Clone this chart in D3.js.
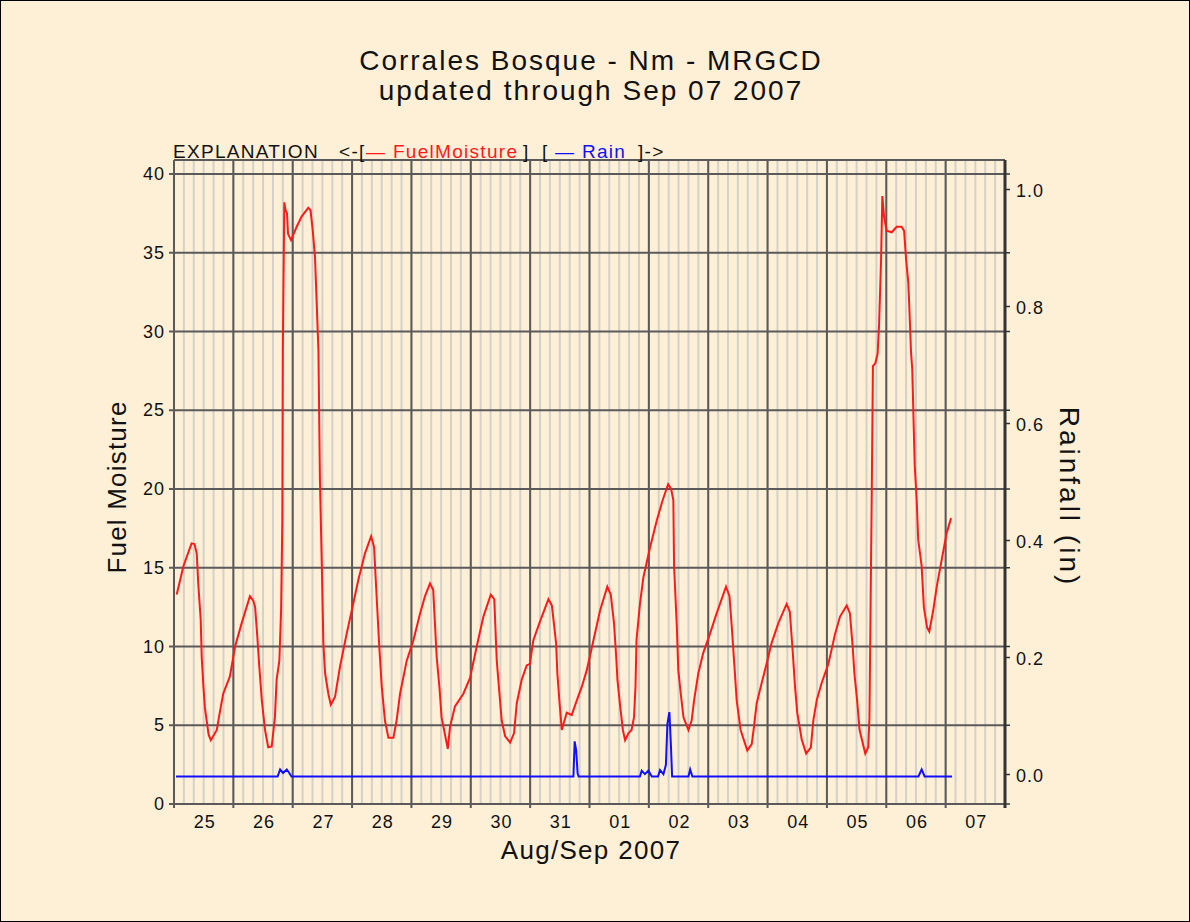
<!DOCTYPE html>
<html><head>
<meta charset="utf-8">
<script src="https://d3js.org/d3.v7.min.js"></script>
<style>
  body { margin: 0; background: #fff; }
  svg text { font-family: "Liberation Sans", Arial, Helvetica, sans-serif; fill: #111; }
  .minor { stroke: #d4d1ca; stroke-width: 2px; }
  .major { stroke: #5a5a5a; stroke-width: 2px; }
  .hgrid { stroke: #5a5a5a; stroke-width: 2px; }
  .tick { stroke: #333; stroke-width: 1.5px; }
  .lbl { font-size: 18px; letter-spacing: 1px; }
</style>
</head>
<body>
<svg id="chart" width="1190" height="922"></svg>
<script>

// Fuel moisture readings, [hours since Aug 25 00:00, value]
const fuelMoisture = [
  [1.1,13.3],[3.8,15.1],[7.1,16.55],[8.3,16.5],[9.2,15.9],[9.8,14.0],[10.8,11.7],[11.2,9.35],
  [11.9,7.45],[12.5,6.1],[14.0,4.4],[14.9,4.05],[17.3,4.7],[18.5,5.8],[19.9,7.0],[22.6,8.1],
  [24.7,10.0],[27.4,11.5],[30.7,13.2],[32.1,12.9],[32.8,12.5],[33.7,10.6],[34.5,8.7],[35.5,6.6],
  [36.8,4.7],[38.1,3.6],[39.5,3.65],[40.8,5.5],[41.5,7.9],[42.6,9.1],[43.3,12.3],[43.8,18.0],
  [44.0,28.8],[44.6,38.2],[45.1,37.7],[45.7,37.5],[46.1,36.2],[47.3,35.8],[49.6,36.65],[51.6,37.3],
  [54.3,37.86],[55.2,37.7],[56.1,36.4],[57.0,34.75],[57.7,31.8],[58.4,28.8],[59.0,20.6],[59.8,14.9],
  [60.4,10.2],[61.1,8.3],[62.4,7.0],[63.4,6.3],[65.1,6.8],[67.1,8.7],[69.8,10.8],[71.9,12.3],
  [74.5,14.2],[77.2,15.9],[79.7,17.0],[80.9,16.3],[82.0,12.95],[83.0,10.0],[84.0,7.45],[85.3,5.3],
  [86.7,4.2],[88.7,4.2],[90.0,5.3],[91.4,7.0],[94.1,9.1],[96.8,10.4],[99.5,12.1],[101.5,13.2],
  [103.5,14.0],[104.8,13.6],[105.5,11.5],[106.2,9.35],[107.3,7.45],[108.2,5.5],[110.7,3.5],[111.6,4.9],
  [113.6,6.2],[117.0,7.0],[119.7,8.0],[122.4,10.0],[125.1,11.9],[128.1,13.3],[129.5,13.0],[130.5,9.1],
  [131.6,7.0],[132.5,5.3],[133.9,4.3],[135.9,3.9],[137.5,4.5],[138.6,6.4],[140.6,7.9],[142.6,8.8],
  [143.9,8.9],[145.3,10.4],[148.0,11.6],[151.4,13.0],[152.8,12.6],[154.5,10.2],[155.0,8.3],[155.8,6.6],
  [156.8,4.7],[157.5,5.1],[158.8,5.8],[160.8,5.65],[162.9,6.6],[164.9,7.45],[166.9,8.5],[169.6,10.4],
  [172.3,12.3],[175.2,13.8],[176.6,13.3],[177.9,11.5],[178.7,9.6],[179.3,7.9],[180.4,6.2],[181.5,4.7],
  [182.4,4.05],[183.8,4.5],[185.0,4.7],[186.0,5.5],[186.6,7.45],[187.0,10.4],[188.4,12.7],[189.8,14.4],
  [192.5,16.3],[195.2,18.0],[197.6,19.3],[199.8,20.3],[201.0,20.0],[201.9,19.3],[202.2,15.1],[203.3,11.3],
  [203.9,8.5],[204.9,7.0],[206.0,5.5],[208.0,4.7],[209.3,5.3],[210.3,6.6],[212.0,8.3],[214.0,9.6],
  [216.7,10.8],[219.4,12.1],[223.2,13.8],[224.6,13.2],[225.5,11.3],[226.8,8.3],[227.5,6.6],[229.1,4.7],
  [231.8,3.4],[233.6,3.8],[234.5,4.9],[235.6,6.4],[237.6,7.66],[239.6,8.9],[241.6,10.2],[244.4,11.5],
  [247.7,12.7],[249.0,12.2],[250.2,9.6],[251.1,7.45],[252.0,5.8],[253.8,4.1],[255.6,3.2],[257.5,3.6],
  [258.5,5.3],[259.9,6.6],[261.9,7.7],[264.6,8.9],[267.3,10.8],[269.3,11.9],[272.0,12.6],[273.3,12.1],
  [274.4,10.0],[275.1,8.3],[276.2,6.6],[277.2,4.7],[279.5,3.2],[280.7,3.6],[281.2,5.5],[281.7,13.4],
  [282.1,19.3],[282.6,27.8],[283.6,28.0],[284.5,28.6],[285.1,30.5],[285.9,34.6],[286.4,38.6],[287.1,37.3],
  [288.1,36.4],[290.2,36.3],[292.2,36.65],[294.2,36.65],[295.2,36.4],[296.0,34.6],[296.9,33.1],[297.3,31.6],
  [298.0,28.7],[298.5,27.6],[299.5,21.5],[300.3,19.3],[300.9,16.8],[302.3,15.1],[303.2,12.5],[304.5,11.2],
  [305.4,10.95],[307.0,12.3],[308.4,13.8],[310.4,15.5],[312.4,17.2],[314.2,18.15]
];

// Rainfall (in), [hours since Aug 25 00:00, value]
const rain = [
  [0.8,0],[41.9,0],[42.9,0.012],[44.1,0.006],[45.6,0.012],[46.6,0.006],[47.5,0],
  [161.5,0],[162.0,0.06],[162.6,0.045],[163.2,0.005],[163.6,0],
  [188.4,0],[189.1,0.01],[190.4,0.004],[191.8,0.01],[193.2,0],
  [195.7,0],[196.5,0.011],[197.9,0.004],[198.9,0.02],[199.5,0.09],[200.3,0.11],[200.9,0.055],[201.4,0],
  [208.0,0],[208.7,0.012],[209.6,0],
  [301.0,0],[302.3,0.012],[303.5,0],[314.6,0]
];

const startDate = new Date(Date.UTC(2007, 7, 25));
const endDate = new Date(Date.UTC(2007, 8, 8));
const fuelTicks = [0, 5, 10, 15, 20, 25, 30, 35, 40];
const rainTicks = [0, 0.2, 0.4, 0.6, 0.8, 1.0];
const titleLines = ["Corrales Bosque - Nm - MRGCD", "updated through Sep 07 2007"];
// legend pieces: text, colour
const legendParts = [
  ["EXPLANATION", "#111"], ["<-[", "#111"], ["— FuelMoisture", "#ff1a1a"],
  ["]", "#111"], ["[", "#111"], ["— Rain", "#1010ff"], ["]->", "#111"]
];
const legendX = [173, 339, 366, 523, 542, 555, 638];

const svg = d3.select("#chart");
const W = +svg.attr("width"), H = +svg.attr("height");
const plotL = 174, plotR = 1005, plotT = 160, plotB = 804;

const hrs = h => d3.utcMinute.offset(startDate, Math.round(h * 60));

const x = d3.scaleUtc().domain([startDate, endDate]).range([plotL, plotR]);
const yFuel = d3.scaleLinear().domain([0, 40]).range([plotB, 174]);
const yRain = d3.scaleLinear().domain([0, 1]).range([776.5, 191.5]);

// background + outer frame
svg.append("rect").attr("x", 0.5).attr("y", 0.5).attr("width", W - 1).attr("height", H - 1)
  .attr("fill", "#feefd7").attr("stroke", "#000");

// minor verticals every 4 hours
svg.append("g").selectAll("line")
  .data(d3.utcHour.every(4).range(startDate, endDate))
  .join("line").attr("class", "minor")
  .attr("x1", d => x(d)).attr("x2", d => x(d))
  .attr("y1", plotT).attr("y2", plotB);

// day boundaries
const days = d3.utcDay.range(startDate, d3.utcDay.offset(endDate, 1));
svg.append("g").selectAll("line")
  .data(days)
  .join("line").attr("class", "major")
  .attr("x1", d => x(d)).attr("x2", d => x(d))
  .attr("y1", plotT).attr("y2", plotB + 4);

// horizontal grid at fuel ticks, plus top frame
svg.append("g").selectAll("line")
  .data(fuelTicks)
  .join("line").attr("class", "hgrid")
  .attr("x1", plotL - 5).attr("x2", plotR)
  .attr("y1", d => yFuel(d)).attr("y2", d => yFuel(d));
svg.append("line").attr("class", "hgrid")
  .attr("x1", plotL).attr("x2", plotR).attr("y1", plotT).attr("y2", plotT);

// right axis
svg.append("line").attr("x1", plotR).attr("x2", plotR).attr("y1", plotT).attr("y2", plotB + 4)
  .attr("stroke", "#333").attr("stroke-width", 3);
svg.append("g").selectAll("line")
  .data(fuelTicks)
  .join("line").attr("class", "tick")
  .attr("x1", plotR).attr("x2", plotR + 5)
  .attr("y1", d => yFuel(d)).attr("y2", d => yFuel(d));
svg.append("g").selectAll("line")
  .data(rainTicks)
  .join("line").attr("class", "tick")
  .attr("x1", plotR).attr("x2", plotR + 5)
  .attr("y1", d => yRain(d) - 2).attr("y2", d => yRain(d) - 2);

// series
svg.append("path").datum(rain)
  .attr("fill", "none").attr("stroke", "#1010ff").attr("stroke-width", 2)
  .attr("d", d3.line().x(d => x(hrs(d[0]))).y(d => yRain(d[1])));
svg.append("path").datum(fuelMoisture)
  .attr("fill", "none").attr("stroke", "#ff1a1a").attr("stroke-width", 2)
  .attr("d", d3.line().x(d => x(hrs(d[0]))).y(d => yFuel(d[1])));

// tick labels
svg.append("g").selectAll("text")
  .data(fuelTicks)
  .join("text").attr("class", "lbl")
  .attr("x", 165).attr("y", d => yFuel(d) + 6)
  .attr("text-anchor", "end")
  .text(d => d);

svg.append("g").selectAll("text")
  .data(rainTicks)
  .join("text").attr("class", "lbl")
  .attr("x", 1016).attr("y", d => yRain(d) + 5)
  .text(d => d3.format(".1f")(d));

svg.append("g").selectAll("text")
  .data(days.filter(d => d < endDate))
  .join("text").attr("class", "lbl")
  .attr("x", d => x(d3.utcHour.offset(d, 12)) + 1).attr("y", 828)
  .attr("text-anchor", "middle")
  .text(d3.utcFormat("%d"));

// titles
svg.append("g").selectAll("text")
  .data(titleLines)
  .join("text")
  .attr("x", 591).attr("y", (d, i) => 69.5 + i * 30)
  .attr("text-anchor", "middle").attr("font-size", 28)
  .style("letter-spacing", "2px")
  .text(d => d);

svg.append("text")
  .attr("transform", "translate(126,487) rotate(-90)")
  .attr("text-anchor", "middle").attr("font-size", 26)
  .style("letter-spacing", "1.2px")
  .text("Fuel Moisture");

svg.append("text")
  .attr("transform", "translate(1060,497) rotate(90)")
  .attr("text-anchor", "middle").attr("font-size", 28)
  .style("letter-spacing", "3px")
  .text("Rainfall (in)");

svg.append("text")
  .attr("x", 591).attr("y", 859)
  .attr("text-anchor", "middle").attr("font-size", 26)
  .style("letter-spacing", "1.3px")
  .text("Aug/Sep 2007");

// legend line
svg.append("g").selectAll("text")
  .data(legendParts)
  .join("text")
  .attr("x", (d, i) => legendX[i]).attr("y", 157.5)
  .attr("font-size", 19)
  .style("fill", d => d[1])
  .style("letter-spacing", "1.3px")
  .text(d => d[0]);

</script>
</body>
</html>
